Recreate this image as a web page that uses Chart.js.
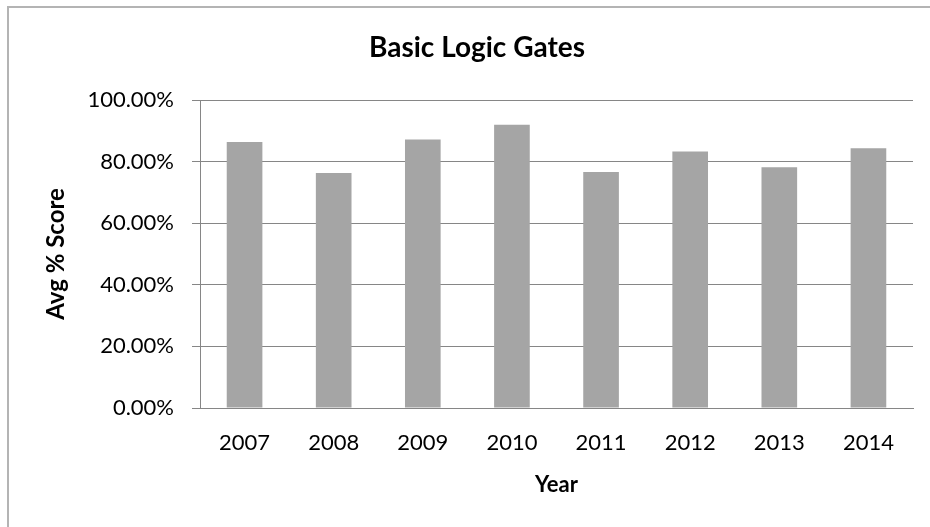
<!DOCTYPE html>
<html>
<head>
<meta charset="utf-8">
<script src="https://cdn.jsdelivr.net/npm/chart.js@4.4.1/dist/chart.umd.min.js"></script>
<style>
  html, body { margin: 0; padding: 0; background: #ffffff; }
  #wrap { position: relative; width: 930px; height: 527px; overflow: hidden; }
  #frame {
    position: absolute; left: 7px; top: 6px; width: 1000px; height: 600px;
    border-left: 2px solid #b4b4b4; border-top: 2px solid #b4b4b4;
    pointer-events: none;
  }
  canvas { position: absolute; left: 0; top: 0; }
</style>
</head>
<body>
<div id="wrap">
  <canvas id="chart" width="930" height="527"></canvas>
  <div id="frame"></div>
</div>
<script>
// Average score per year for the "Basic Logic Gates" topic
const years = ['2007', '2008', '2009', '2010', '2011', '2012', '2013', '2014'];
const avgScores = [86.4, 76.3, 87.2, 92.0, 76.6, 83.3, 78.2, 84.3];
const yTicks = [0, 20, 40, 60, 80, 100];

const chartTitle = 'Basic Logic Gates';
const xTitle = 'Year';
const yTitle = 'Avg % Score';

const FONT = "Lato, 'Open Sans', 'DejaVu Sans', sans-serif";
const LINE = '#868686';

// The chart frame runs past the right edge of the page, so its title is
// centred on the whole frame rather than on the plot area.
const frameTitle = {
  id: 'frameTitle',
  afterDraw(chart) {
    const ctx = chart.ctx;
    ctx.save();
    ctx.fillStyle = '#000000';
    ctx.font = 'bold 28px ' + FONT;
    ctx.textAlign = 'center';
    ctx.textBaseline = 'middle';
    ctx.fillText(chartTitle, 477, 48);
    ctx.restore();
  }
};

new Chart(document.getElementById('chart'), {
  type: 'bar',
  data: {
    labels: years,
    datasets: [{
      data: avgScores,
      backgroundColor: '#a5a5a5',
      borderWidth: 0,
      barPercentage: 0.4,
      categoryPercentage: 1.0
    }]
  },
  options: {
    responsive: false,
    animation: false,
    devicePixelRatio: 1,
    layout: { padding: { left: 0, right: 17, top: 100, bottom: 0 } },
    plugins: {
      legend: { display: false },
      tooltip: { enabled: false },
      title: { display: false }
    },
    scales: {
      x: {
        grid: { display: false, drawTicks: false },
        border: { display: true, color: LINE, width: 1 },
        ticks: {
          color: '#000000',
          font: { family: FONT, size: 22 },
          padding: 22,
          maxRotation: 0
        },
        title: {
          display: true,
          text: xTitle,
          color: '#000000',
          font: { family: FONT, size: 22, weight: 'bold' },
          padding: { top: 0, bottom: 29 }
        },
        afterFit: (s) => { s.height = 119; }
      },
      y: {
        min: 0,
        max: 100,
        afterBuildTicks: (s) => { s.ticks = yTicks.map(v => ({ value: v })); },
        grid: { color: LINE, lineWidth: 1, tickLength: 8, drawTicks: true },
        border: { display: true, color: LINE, width: 1 },
        ticks: {
          color: '#000000',
          font: { family: FONT, size: 22 },
          padding: 18,
          callback: (v) => v.toFixed(2) + '%'
        },
        title: {
          display: true,
          text: yTitle,
          color: '#000000',
          font: { family: FONT, size: 24, weight: 'bold' },
          padding: { top: 42, bottom: 0 }
        },
        afterFit: (s) => { s.width = 200; }
      }
    }
  },
  plugins: [frameTitle]
});
</script>
</body>
</html>
